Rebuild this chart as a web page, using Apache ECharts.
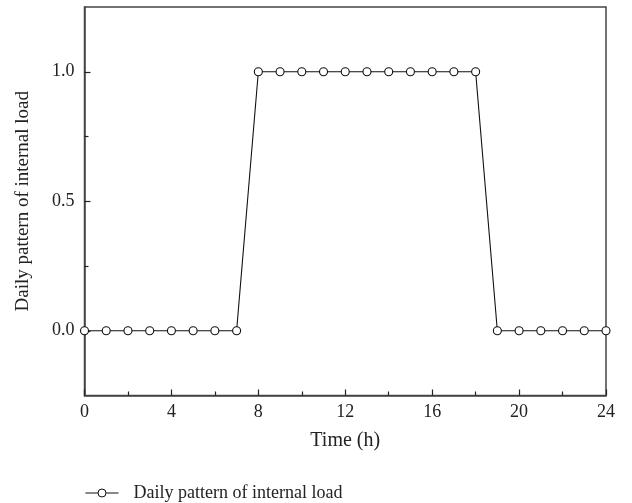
<!DOCTYPE html>
<html>
<head>
<meta charset="utf-8">
<script src="https://cdn.jsdelivr.net/npm/echarts@6/dist/echarts.min.js"></script>
<style>
  html, body { margin: 0; padding: 0; background: #fff; }
  #chart { width: 632px; height: 503px; }
</style>
</head>
<body>
<div id="chart"></div>
<script>
// Hourly schedule of internal load (fraction of peak)
const hours = [0, 1, 2, 3, 4, 5, 6, 7, 8, 9, 10, 11, 12, 13, 14, 15, 16, 17, 18, 19, 20, 21, 22, 23, 24];
const loadPattern = [0, 0, 0, 0, 0, 0, 0, 0, 1, 1, 1, 1, 1, 1, 1, 1, 1, 1, 1, 0, 0, 0, 0, 0, 0];
const yMajorTicks = [0, 0.5, 1.0];
const yMinorTicks = [0.25, 0.75];
const seriesName = 'Daily pattern of internal load';

const FONT = 'Liberation Serif';
const INK = '#222';

const chart = echarts.init(document.getElementById('chart'), null, { renderer: 'canvas' });

chart.setOption({
  animation: false,
  backgroundColor: '#fff',
  textStyle: { fontFamily: FONT },
  grid: {
    left: 84.5, top: 7, right: 26, bottom: 107.5,
    show: true, borderColor: '#444', borderWidth: 1.5, backgroundColor: 'transparent'
  },
  legend: {
    left: 80, top: 479,
    itemWidth: 33, itemHeight: 10, itemGap: 10,
    lineStyle: { width: 1 },
    itemStyle: { borderWidth: 1 },
    textStyle: { fontFamily: FONT, fontSize: 18, color: INK, padding: [0, 0, 0, 10] },
    data: [seriesName]
  },
  xAxis: {
    type: 'value', min: 0, max: 24, interval: 4,
    name: 'Time (h)', nameLocation: 'middle', nameGap: 35,
    nameTextStyle: { fontFamily: FONT, fontSize: 20, color: INK },
    axisLine: { show: true, onZero: false, lineStyle: { color: '#444', width: 1.5 } },
    axisTick: { show: true, inside: true, length: 6, lineStyle: { color: '#222', width: 1.2 } },
    minorTick: { show: true, splitNumber: 2, length: 4, lineStyle: { color: '#222', width: 1.2 } },
    axisLabel: { fontFamily: FONT, fontSize: 18, color: INK, margin: 8 },
    splitLine: { show: false }
  },
  yAxis: [
    {
      type: 'value', min: -0.25, max: 1.25,
      name: 'Daily pattern of internal load', nameLocation: 'middle', nameGap: 52,
      nameTextStyle: { fontFamily: FONT, fontSize: 19, color: INK },
      axisLine: { show: true, onZero: false, lineStyle: { color: '#444', width: 1.5 } },
      axisTick: { show: true, inside: true, length: 6, customValues: yMajorTicks, lineStyle: { color: '#222', width: 1.2 } },
      axisLabel: {
        fontFamily: FONT, fontSize: 18, color: INK, margin: 10,
        customValues: yMajorTicks,
        formatter: v => v.toFixed(1)
      },
      splitLine: { show: false }
    },
    {
      type: 'value', min: -0.25, max: 1.25, position: 'left',
      axisLine: { show: false, onZero: false },
      axisTick: { show: true, inside: true, length: 4, customValues: yMinorTicks, lineStyle: { color: '#222', width: 1.2 } },
      axisLabel: { show: false },
      splitLine: { show: false }
    }
  ],
  series: [{
    name: seriesName,
    type: 'line',
    data: hours.map((h, i) => [h, loadPattern[i]]),
    symbol: 'circle',
    symbolSize: 8,
    showAllSymbol: true,
    clip: true,
    lineStyle: { color: '#111', width: 1.1 },
    itemStyle: { color: '#fff', borderColor: '#111', borderWidth: 1.1 },
    z: 3
  }]
});
</script>
</body>
</html>
